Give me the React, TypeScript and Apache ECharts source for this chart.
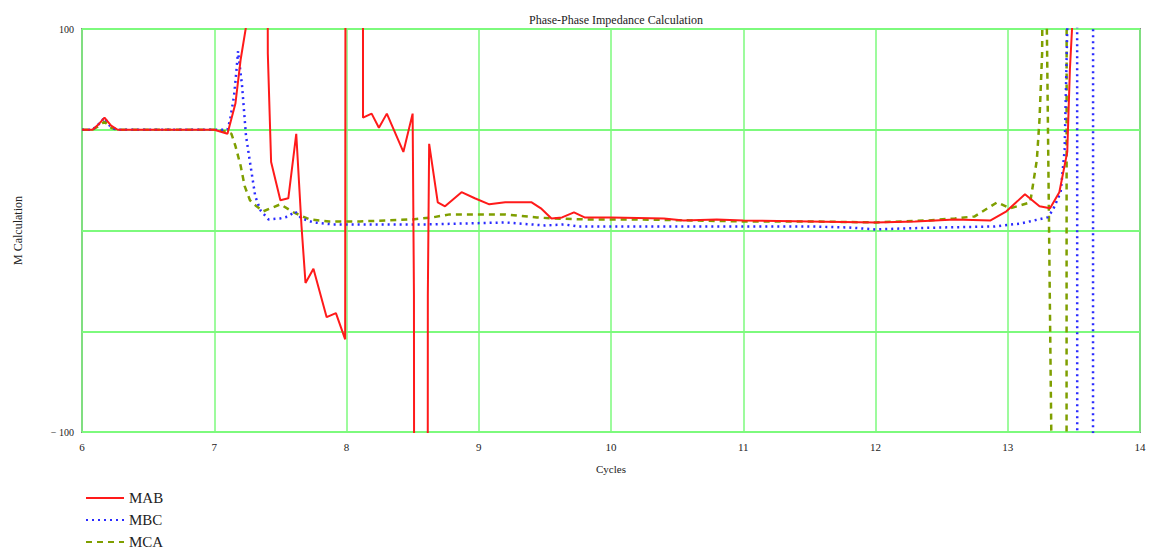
import React, { useEffect, useRef } from "react";
import * as echarts from "echarts";

const title = "Phase-Phase Impedance Calculation";
const xName = "Cycles";
const yName = "M Calculation";
const seriesNames = ["MAB", "MBC", "MCA"];

// MAB (red, solid)
const mabX = [6.0, 6.08, 6.13, 6.17, 6.22, 6.27, 6.5, 6.8, 7.0, 7.1, 7.16, 7.2, 7.25, 7.3, 7.35, 7.39, 7.405, 7.43, 7.5, 7.56, 7.62, 7.66, 7.69, 7.75, 7.85, 7.92, 7.99, 8.0, 8.12, 8.125, 8.19, 8.245, 8.305, 8.43, 8.5, 8.51, 8.52, 8.61, 8.615, 8.625, 8.69, 8.745, 8.87, 8.97, 9.08, 9.2, 9.4, 9.47, 9.55, 9.63, 9.72, 9.8, 10.0, 10.4, 10.55, 10.8, 11.0, 11.5, 12.0, 12.3, 12.6, 12.87, 12.99, 13.13, 13.24, 13.32, 13.39, 13.45, 13.47, 13.49, 13.52];
const mabY = [50, 50, 53, 56, 52, 50, 50, 50, 50, 48, 63, 85, 105, 600, 600, 600, 88, 34, 15, 16, 48, 2, -26, -19, -43, -41, -54, 800, 800, 56, 58, 51, 58, 39, 58, -32, -800, -800, -32, 43, 14, 12, 19, 16, 13, 14, 14, 11, 6, 6.5, 9, 6.5, 6.5, 6, 5, 5.5, 5, 4.5, 4, 4.5, 5.5, 5, 9.5, 18, 12, 11, 19, 39, 80, 105, 600];

// MBC (blue, dotted)
const mbcX = [6.0, 6.08, 6.13, 6.17, 6.22, 6.27, 7.0, 7.1, 7.12, 7.15, 7.17, 7.18, 7.21, 7.24, 7.27, 7.31, 7.35, 7.41, 7.5, 7.56, 7.61, 7.66, 7.75, 7.9, 8.2, 8.6, 8.9, 9.2, 9.5, 9.65, 9.75, 10.0, 10.5, 11.0, 11.5, 11.8, 12.0, 12.2, 12.5, 12.9, 13.1, 13.3, 13.34, 13.4, 13.43, 13.45, 13.47, 13.52, 13.53, 13.64, 13.65];
const mbcY = [50, 50, 53, 56, 51, 50, 50, 50, 55, 67, 81, 89, 72, 47, 34, 17, 10, 5.5, 6, 7, 9.5, 6, 4, 3, 3, 3, 3.5, 4, 2.5, 3, 2, 2, 2, 2, 2, 1.5, 0.5, 1, 1.5, 2, 3.5, 6.5, 10, 19, 40, 100, 2000, 2000, -2000, -2000, 2000];

// MCA (olive, dashed)
const mcaX = [6.0, 6.08, 6.13, 6.17, 6.22, 6.27, 7.0, 7.1, 7.13, 7.16, 7.2, 7.23, 7.27, 7.32, 7.37, 7.5, 7.6, 7.72, 7.87, 8.1, 8.5, 8.65, 8.78, 9.0, 9.2, 9.44, 9.55, 9.8, 10.2, 10.6, 11.0, 11.5, 12.0, 12.4, 12.6, 12.75, 12.92, 13.02, 13.17, 13.22, 13.24, 13.26, 13.28, 13.29, 13.295, 13.33, 13.34, 13.44, 13.45];
const mcaY = [50, 50, 52, 54, 51, 50, 50, 49, 48, 42, 32, 22, 15, 12, 9.5, 13, 9, 5.5, 4.5, 4.5, 5.5, 6.5, 8, 8, 8, 6.5, 6, 5.5, 5.5, 5, 4.5, 4.5, 4, 5, 6, 7, 14, 11, 14, 35, 55, 88, 300, 300, 105, -105, -2000, -2000, 2000];

const xTicks = [6, 7, 8, 9, 10, 11, 12, 13, 14];
const yTicks = [-100, -50, 0, 50, 100];

const zip = (xs: number[], ys: number[]) => xs.map((x, i) => [x, ys[i]]);

const FONT = "Liberation Serif, Times New Roman, serif";

export default function App() {
  const ref = useRef<HTMLDivElement>(null);
  useEffect(() => {
    if (!ref.current) return;
    const chart = echarts.init(ref.current, null, { renderer: "svg" });
    chart.setOption({
      animation: false,
      backgroundColor: "#ffffff",
      title: {
        text: title,
        left: 611,
        textAlign: "center",
        top: 9,
        textStyle: { fontFamily: FONT, fontSize: 12, fontWeight: "normal", color: "#222" },
      },
      legend: {
        orient: "vertical",
        left: 80,
        top: 484,
        height: 90,
        itemWidth: 38,
        itemHeight: 18,
        itemGap: 4,
        itemStyle: { opacity: 0 },
        data: seriesNames.map((n) => ({ name: n })),
        textStyle: { fontFamily: FONT, fontSize: 15, color: "#222", lineHeight: 18 },
      },
      grid: {
        left: 82,
        right: 18,
        top: 29,
        bottom: 125,
        show: true,
        borderColor: "#8a8a8a",
        borderWidth: 2,
      },
      xAxis: {
        type: "value",
        min: 6,
        max: 14,
        interval: 1,
        name: xName,
        nameLocation: "middle",
        nameGap: 31,
        nameTextStyle: { fontFamily: FONT, fontSize: 11, color: "#222" },
        axisLine: { show: false },
        axisTick: { show: false },
        axisLabel: {
          fontFamily: FONT,
          fontSize: 11,
          color: "#222",
          margin: 9,
          formatter: (v: number) => (xTicks.includes(v) ? String(v) : ""),
        },
        splitLine: { show: true, lineStyle: { color: "#7dfa7d", width: 1.5 } },
      },
      yAxis: {
        type: "value",
        min: -100,
        max: 100,
        interval: 50,
        name: yName,
        nameLocation: "middle",
        nameGap: 58,
        nameTextStyle: { fontFamily: FONT, fontSize: 12, color: "#222" },
        axisLine: { show: false },
        axisTick: { show: false },
        axisLabel: {
          fontFamily: FONT,
          fontSize: 10,
          color: "#222",
          margin: 8,
          formatter: (v: number) =>
            v === yTicks[yTicks.length - 1] ? "100" : v === yTicks[0] ? "\u2212 100" : "",
        },
        splitLine: { show: true, lineStyle: { color: "#7dfa7d", width: 2 } },
      },
      series: [
        {
          name: seriesNames[0],
          type: "line",
          data: zip(mabX, mabY),
          symbol: "none",
          clip: true,
          z: 3,
          itemStyle: { color: "#ff1a1a" },
          lineStyle: { color: "#ff1a1a", width: 2, type: "solid" },
        },
        {
          name: seriesNames[1],
          type: "line",
          data: zip(mbcX, mbcY),
          symbol: "none",
          clip: true,
          z: 2,
          itemStyle: { color: "#2a2aff" },
          lineStyle: { color: "#2a2aff", width: 2.5, type: [2, 4] },
        },
        {
          name: seriesNames[2],
          type: "line",
          data: zip(mcaX, mcaY),
          symbol: "none",
          clip: true,
          z: 1,
          itemStyle: { color: "#7f9f00" },
          lineStyle: { color: "#7f9f00", width: 2.5, type: [6, 5] },
        },
      ],
    });
    return () => chart.dispose();
  }, []);
  return (
    <div
      ref={ref}
      style={{ position: "fixed", left: 0, top: 0, width: 1158, height: 557 }}
    />
  );
}
